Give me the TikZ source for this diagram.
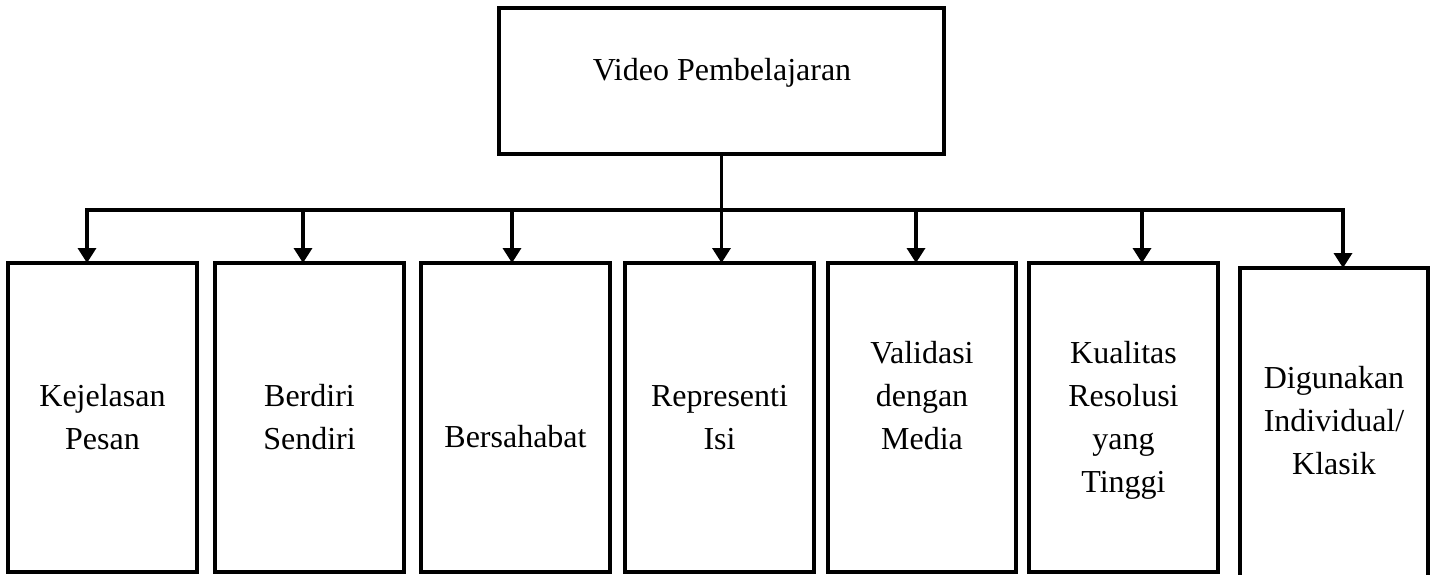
\documentclass[tikz,border=0pt]{standalone}
\usepackage{fontspec}
\setmainfont{Liberation Serif}
\usetikzlibrary{arrows.meta}
\tikzset{
  box/.style={draw=black, line width=1.7pt, fill=white, rectangle, inner sep=0pt, outer sep=0pt},
  conn/.style={draw=black, line width=1.7pt},
  arr/.style={conn, -{Triangle[width=9pt,length=7.5pt]}},
  lbl/.style={anchor=base, inner sep=0pt, font=\fontsize{16pt}{21.5pt}\selectfont}
}
\newcommand{\mylines}[1]{\begin{tabular}[t]{@{}c@{}}#1\end{tabular}}
\begin{document}
\begin{tikzpicture}[x=0.5pt,y=-0.5pt]
\clip (0,0) rectangle (1430,574);
\fill[white] (0,0) rectangle (1430,574);
% top box
\node[box, minimum width={445*0.5pt}, minimum height={146*0.5pt}] (top) at (721.5,81) {};
\node[lbl] (toptxt) at (722,80) {Video Pembelajaran};
% bottom boxes
\node[box, minimum width={189*0.5pt}, minimum height={309*0.5pt}] (b1) at (102.5,417.5) {};
\node[box, minimum width={189*0.5pt}, minimum height={309*0.5pt}] (b2) at (309.5,417.5) {};
\node[box, minimum width={189*0.5pt}, minimum height={309*0.5pt}] (b3) at (515.5,417.5) {};
\node[box, minimum width={189*0.5pt}, minimum height={309*0.5pt}] (b4) at (719.5,417.5) {};
\node[box, minimum width={188*0.5pt}, minimum height={309*0.5pt}] (b5) at (922,417.5) {};
\node[box, minimum width={189*0.5pt}, minimum height={309*0.5pt}] (b6) at (1123.5,417.5) {};
\node[box, minimum width={188*0.5pt}, minimum height={322*0.5pt}] (b7) at (1334,429) {};
% texts
\node[lbl] (t1) at (102.5,406) {\mylines{Kejelasan\\Pesan}};
\node[lbl] (t2) at (309.5,406) {\mylines{Berdiri\\Sendiri}};
\node[lbl] (t3) at (515.5,447) {Bersahabat};
\node[lbl] (t4) at (719.5,406) {\mylines{Representi\\Isi}};
\node[lbl] (t5) at (922,363) {\mylines{Validasi\\dengan\\Media}};
\node[lbl] (t6) at (1123.5,363) {\mylines{Kualitas\\Resolusi\\yang\\Tinggi}};
\node[lbl] (t7) at (1334,388) {\mylines{Digunakan\\Individual/\\Klasik}};
% connector bar
\coordinate (bl) at (87,210);
\coordinate (br) at (1343,210);
\coordinate (j1) at (87,210);
\coordinate (j2) at (303,210);
\coordinate (j3) at (512,210);
\coordinate (j4) at (top.south |- bl);
\coordinate (j5) at (916,210);
\coordinate (j6) at (1142,210);
\coordinate (j7) at (1343,210);
\draw[conn] (top.south) -- (j4);
\draw[conn, line cap=rect] (bl) -- (br);
\draw[arr] (j1) -- (j1 |- b1.north);
\draw[arr] (j2) -- (j2 |- b2.north);
\draw[arr] (j3) -- (j3 |- b3.north);
\draw[arr] (j4) -- (j4 |- b4.north);
\draw[arr] (j5) -- (j5 |- b5.north);
\draw[arr] (j6) -- (j6 |- b6.north);
\draw[arr] (j7) -- (j7 |- b7.north);
\end{tikzpicture}
\end{document}
